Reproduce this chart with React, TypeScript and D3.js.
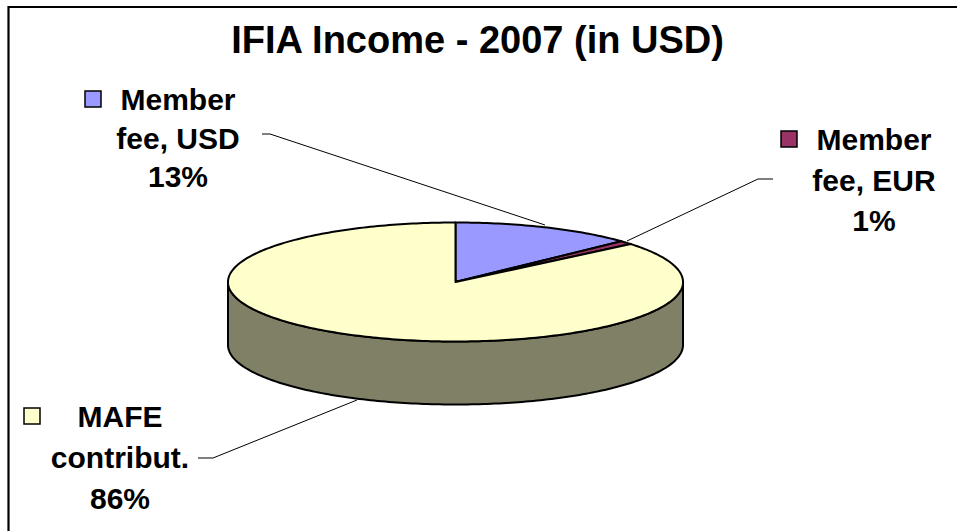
import React from "react";
import * as d3 from "d3";

const categories = ["Member fee, USD", "Member fee, EUR", "MAFE contribut."];
const values = [13, 1, 86];
const colors = ["#9999FF", "#993366", "#FFFFCC"];
const labelLines = [
  ["Member", "fee, USD"],
  ["Member", "fee, EUR"],
  ["MAFE", "contribut."],
];
const title = "IFIA Income - 2007 (in USD)";

const W = 957;
const H = 531;
const cx = 455.5;
const cy = 282;
const rx = 227.5;
const ry = 59.5;
const depth = 63;
const FONT = "'Liberation Sans', Arial, sans-serif";

function proj(a: number, dy = 0): [number, number] {
  return [cx + rx * Math.sin(a), cy + dy - ry * Math.cos(a)];
}

function arcPoints(a0: number, a1: number, dy = 0): [number, number][] {
  const n = Math.max(2, Math.ceil(((a1 - a0) / (2 * Math.PI)) * 360));
  const s = d3.scaleLinear().domain([0, n]).range([a0, a1]);
  return d3.range(n + 1).map((i) => proj(s(i), dy));
}

const line = d3.line<[number, number]>();

// label layout: center x, first baseline, line step, key box, leader points
const labelLayout = [
  { x: 178, y: 110, step: 38.5, key: [85, 91], leader: [[262, 134], [270, 134], [545, 225]] },
  { x: 874, y: 150, step: 40.5, key: [781, 131], leader: [[773, 179], [758, 179], [627, 241]] },
  { x: 120, y: 427, step: 41, key: [24, 408], leader: [[198, 458], [213, 458], [357, 400]] },
];

export default function App() {
  const pie = d3.pie<number>().sort(null).startAngle(0).endAngle(2 * Math.PI);
  const arcs = pie(values);
  const total = d3.sum(values);

  // side (front half visible: from PI/2 to 3PI/2)
  const front = arcPoints(Math.PI / 2, (3 * Math.PI) / 2, 0);
  const back = arcPoints(Math.PI / 2, (3 * Math.PI) / 2, depth).reverse();
  const sidePath = line([...front, ...back]) + "Z";

  return (
    <svg
      width={W}
      height={H}
      style={{ position: "absolute", left: 0, top: 0, background: "#fff" }}
      fontFamily={FONT}
    >
      <path d={`M8.5,${H + 5} V7 H${W + 5}`} fill="none" stroke="#000" strokeWidth={2.2} />
      <text x={477.5} y={53} textAnchor="middle" fontWeight="bold" fontSize={38}>
        {title}
      </text>

      <path d={sidePath} fill="#808066" stroke="#000" strokeWidth={2} strokeLinejoin="round" />

      {arcs.map((a, i) => {
        const pts = [[cx, cy] as [number, number], ...arcPoints(a.startAngle, a.endAngle)];
        return (
          <path
            key={i}
            d={line(pts) + "Z"}
            fill={colors[i]}
            stroke="#000"
            strokeWidth={2}
            strokeLinejoin="round"
          />
        );
      })}

      {arcs.map((a, i) => {
        const L = labelLayout[i];
        const pct = Math.round((values[i] / total) * 100) + "%";
        const lines = [...labelLines[i], pct];
        return (
          <g key={"l" + i}>
            <polyline
              points={L.leader.map((p) => p.join(",")).join(" ")}
              fill="none"
              stroke="#000"
              strokeWidth={1}
            />
            <rect
              x={L.key[0]}
              y={L.key[1]}
              width={16}
              height={16}
              fill={colors[i]}
              stroke="#000"
              strokeWidth={1.5}
            />
            {lines.map((t, j) => (
              <text
                key={j}
                x={L.x}
                y={L.y + j * L.step}
                textAnchor="middle"
                fontWeight="bold"
                fontSize={30}
              >
                {t}
              </text>
            ))}
          </g>
        );
      })}
    </svg>
  );
}
